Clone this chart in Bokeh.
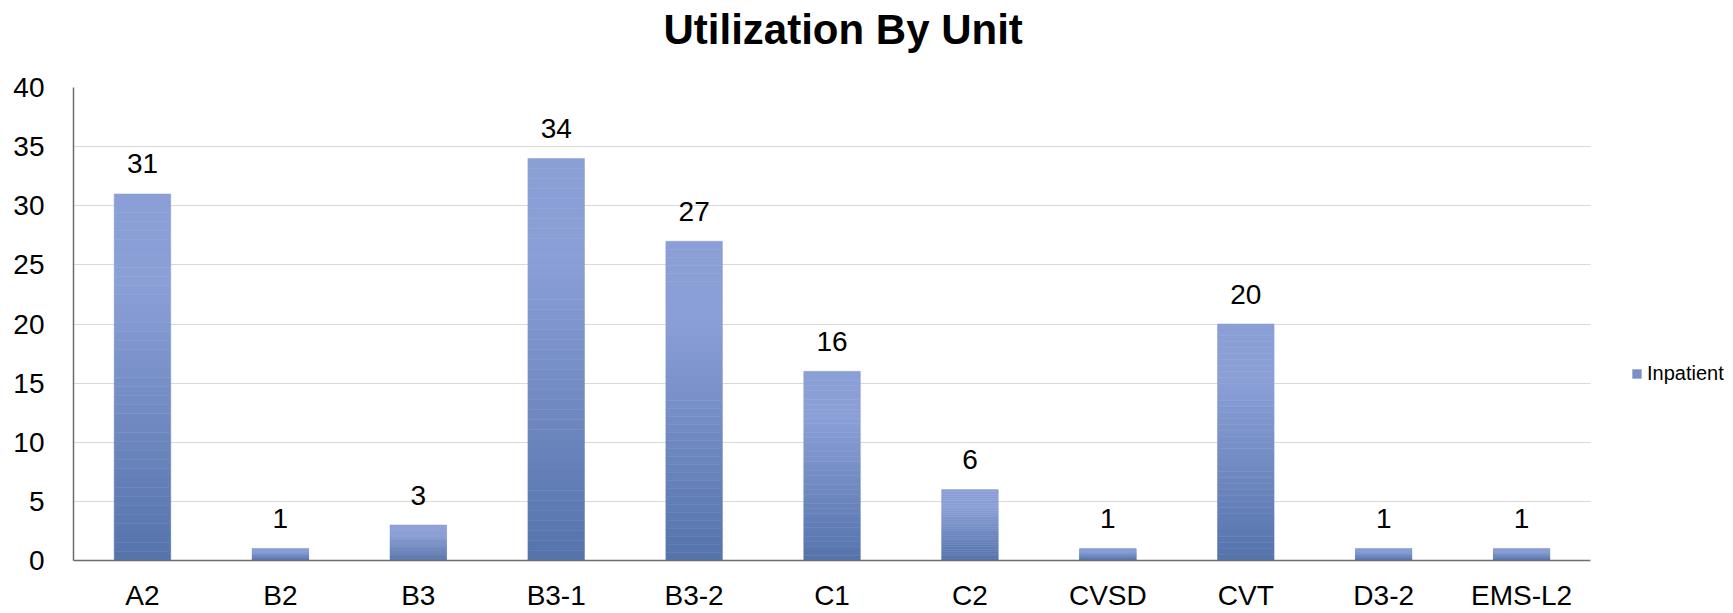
from bokeh.plotting import figure
from bokeh.models import (FactorRange, Range1d, ColumnDataSource, Legend, LegendItem,
                          SingleIntervalTicker, BoxAnnotation, Title)
from bokeh.embed import file_html
from bokeh.resources import INLINE

units = ["A2", "B2", "B3", "B3-1", "B3-2", "C1", "C2", "CVSD", "CVT", "D3-2", "EMS-L2"]
inpatient = [31, 1, 3, 34, 27, 16, 6, 1, 20, 1, 1]
series_name = "Inpatient"
title_text = "Utilization By Unit"

FONT = "Liberation Sans"
LIGHT = (0x8A, 0x9F, 0xD6)
DARK = (0x55, 0x73, 0xAB)

def mix(t):
    f = max(0.0, (t - 0.25) / 0.75)
    c = [round(LIGHT[k] + (DARK[k] - LIGHT[k]) * f) for k in range(3)]
    return "#%02x%02x%02x" % tuple(c)

W, H = 1728, 613
# one blank slot on the right gives room for the legend inside the frame
p = figure(width=W, height=H, output_backend="svg", toolbar_location=None,
           x_range=FactorRange(*(units + [" "]), range_padding=0), y_range=Range1d(0, 40),
           min_border_left=73, min_border_right=0, min_border_top=87, min_border_bottom=48)
p.outline_line_color = None
p.background_fill_color = "white"
p.border_fill_color = "white"

# gradient bars built from data: each bar split into slices
N = 40
xs, bots, tops, cols = [], [], [], []
for u, v in zip(units, inpatient):
    for j in range(N):
        xs.append(u)
        bots.append(v * j / N)
        tops.append(v * (j + 1) / N)
        cols.append(mix(1 - (j + 0.5) / N))
src = ColumnDataSource(dict(x=xs, bottom=bots, top=tops, color=cols))
bars = p.vbar(x="x", bottom="bottom", top="top", width=0.41, fill_color="color", line_color="color",
              line_width=0.5, source=src)

# data labels
lab = ColumnDataSource(dict(x=units, y=inpatient, t=[str(v) for v in inpatient]))
p.text(x="x", y="y", text="t", source=lab, text_align="center", text_baseline="alphabetic",
       y_offset=-30, text_font_size="28px", text_color="black", text_font={"value": FONT})

# blank the grid in the legend slot
p.add_layout(BoxAnnotation(left=len(units), fill_color="white", fill_alpha=1, line_color=None))

# legend
legend = Legend(items=[LegendItem(label=series_name, renderers=[bars], index=N // 2)],
                location=(1558, 175),
                glyph_width=11, glyph_height=11, label_standoff=5, padding=0, margin=0,
                spacing=0, border_line_color=None, background_fill_alpha=0,
                label_text_font=FONT, label_text_font_size="20px", label_text_color="black",
                label_height=20)
p.add_layout(legend, "center")

# title: an invisible spacer next to the frame, the real title above it
p.title.text = ""
spacer = Title(text=" ", text_font_size="10px", text_color="white", standoff=20)
p.add_layout(spacer, "above")
main_title = Title(text=title_text, align="left", offset=590, vertical_align="top", standoff=0,
                   text_font=FONT, text_font_size="42px", text_font_style="bold", text_color="black")
p.add_layout(main_title, "above")

# axes
p.yaxis.ticker = SingleIntervalTicker(interval=5)
p.xaxis.bounds = (0, len(units))
for ax in (p.xaxis[0], p.yaxis[0]):
    ax.axis_line_color = "#6e6e6e"
    ax.axis_line_width = 1.5
    ax.major_tick_out = 0
    ax.major_tick_in = 0
    ax.minor_tick_out = 0
    ax.minor_tick_in = 0
    ax.major_label_text_font = FONT
    ax.major_label_text_font_size = "28px"
    ax.major_label_text_color = "black"
p.yaxis.major_label_standoff = 29
p.xaxis.major_label_standoff = 19
p.xgrid.grid_line_color = None
p.ygrid.grid_line_color = "#d9d9d9"
p.ygrid.grid_line_width = 1.2

open("out.html", "w").write(file_html(p, INLINE))
